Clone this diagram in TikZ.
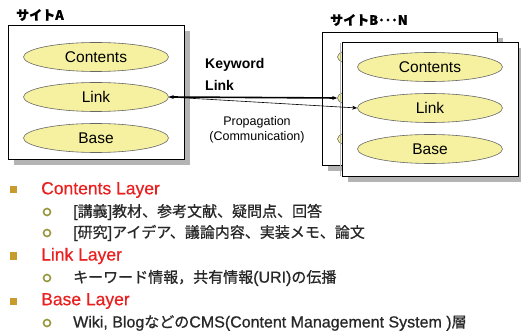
\documentclass[tikz,border=0pt]{standalone}
\usepackage{fontspec}
\setmainfont{Liberation Sans}
\newfontfamily\jp{Noto Sans CJK JP}[FakeBold=0.8]
\newfontfamily\lat{Liberation Sans}[FakeBold=0.8]
\newfontfamily\latb{Liberation Sans}[FakeBold=0.6]
\newcommand\jpt[1]{{\jp\fontsize{15}{15}\selectfont #1}}
\usetikzlibrary{shapes.geometric,arrows.meta}
\definecolor{ellfill}{RGB}{246,241,160}
\definecolor{shadowgray}{RGB}{180,180,180}
\definecolor{layerred}{RGB}{232,32,32}
\definecolor{sqgold}{RGB}{200,155,47}
\definecolor{circolive}{RGB}{150,150,60}
\definecolor{txtgray}{RGB}{40,40,40}
\tikzset{
  sitebox/.style={draw=black, fill=white, line width=0.6pt},
  shadowbox/.style={fill=shadowgray, draw=none},
  layer/.style={ellipse, draw=gray!80!black, fill=ellfill, line width=0.6pt, minimum width=145pt, minimum height=29pt, inner sep=0pt, font=\fontsize{15.5}{16}\selectfont},
  sitelabel/.style={anchor=west, inner sep=0pt, font=\jp\bfseries\fontsize{13}{14}\selectfont},
  title/.style={anchor=west, inner sep=0pt, text=layerred, font=\latb\fontsize{17.5}{18}\selectfont},
  subtext/.style={anchor=west, inner sep=0pt, text=txtgray, font=\lat\fontsize{16}{16}\selectfont},
  sqbullet/.style={fill=sqgold, minimum size=7pt, inner sep=0pt},
  circbullet/.style={circle, draw=circolive, line width=1.6pt, minimum size=7pt, inner sep=0pt},
}
\begin{document}
\begin{tikzpicture}[x=1pt, y=-1pt]
\useasboundingbox (0,0) rectangle (521,336);
% Site A
\fill[shadowbox] (14,31) rectangle (190,165);
\draw[sitebox] (8,25) rectangle (184,159);
\node[sitelabel] (labA) at (16,15) {サイトA};
\node[layer] (ca) at (96,57) {Contents};
\node[layer] (la) at (96,97) {Link};
\node[layer] (ba) at (96,138) {Base};
% Site B..N back
\fill[shadowbox] (328,38) rectangle (503,171);
\draw[sitebox] (322,32) rectangle (497,165);
\node[layer] (cb) at (410,57) {};
\node[layer] (lb) at (410,98) {};
\node[layer] (bb) at (410,139) {};
% front
\fill[shadowbox] (348,48) rectangle (524,182);
\draw[sitebox] (342,42) rectangle (518,176);
\draw[shadowgray, line width=1pt] (340.5,43) -- (340.5,176);
\node[sitelabel] (labB) at (330,20) {サイトB･･･N};
\node[layer] (cf) at (430,67) {Contents};
\node[layer] (lf) at (430,108) {Link};
\node[layer] (bf) at (430,149) {Base};
% connectors
\draw[line width=1.6pt, {Stealth[length=5pt,width=4pt]}-{Stealth[length=5pt,width=4pt]}] (la.east) -- (lb.west);
\draw[line width=0.6pt, -{Stealth[length=5pt,width=4pt]}] (la.east) -- (lf.west);
% labels
\node[anchor=west, inner sep=0pt, font=\bfseries\fontsize{14}{15}\selectfont] (kw) at (205,65) {Keyword};
\node[anchor=west, inner sep=0pt, font=\bfseries\fontsize{14}{15}\selectfont] (lk) at (205,85) {Link};
\node[inner sep=0pt, font=\fontsize{12.5}{13}\selectfont] (pr) at (257,122) {Propagation};
\node[inner sep=0pt, font=\fontsize{12.5}{13}\selectfont] (cm) at (257,137) {(Communication)};
% bullets
\node[sqbullet] (s1) at (13.5,190) {};
\node[title] (t1) at (41,190) {Contents Layer};
\node[circbullet] (c1) at (47,212) {};
\node[subtext] (u1) at (73,212) {[\jpt{講義}]\jpt{教材、参考文献、疑問点、回答}};
\node[circbullet] (c2) at (47,233) {};
\node[subtext] (u2) at (73,233) {[\jpt{研究}]\jpt{アイデア、議論内容、実装メモ、論文}};
\node[sqbullet] (s2) at (13.5,256) {};
\node[title] (t2) at (41,256) {Link Layer};
\node[circbullet] (c3) at (47,278) {};
\node[subtext] (u3) at (73,278) {\jpt{キーワード情報，共有情報}(URI)\jpt{の伝播}};
\node[sqbullet] (s3) at (13.5,301) {};
\node[title] (t3) at (41,301) {Base Layer};
\node[circbullet] (c4) at (47,323) {};
\node[subtext] (u4) at (73,323) {Wiki, Blog\jpt{などの}CMS(Content Management System )\jpt{層}};
\end{tikzpicture}
\end{document}
